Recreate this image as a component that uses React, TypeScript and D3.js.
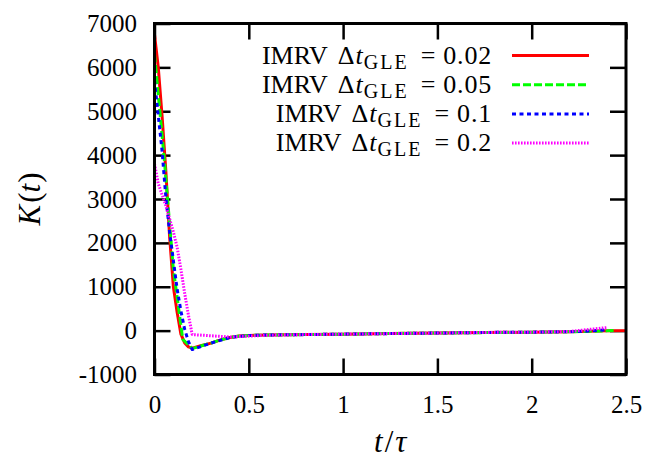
import { useEffect, useRef } from 'react';
import * as d3 from 'd3';

// ticks
const xTicks = [0, 0.5, 1, 1.5, 2, 2.5];
const yTicks = [-1000, 0, 1000, 2000, 3000, 4000, 5000, 6000, 7000];

// IMRV dt_GLE = 0.02
const tA = [0, 0.02, 0.04, 0.06, 0.08, 0.1, 0.12, 0.14, 0.16, 0.18, 0.2, 0.25, 0.3, 0.35, 0.4, 0.45, 0.5, 0.6, 0.8, 1.0, 1.25, 1.5, 1.75, 2.0, 2.2, 2.3, 2.4, 2.5];
const kA = [6750, 6000, 4900, 3650, 2150, 1000, 420, -80, -280, -370, -400, -340, -285, -210, -155, -125, -110, -100, -90, -80, -65, -55, -45, -35, -25, -15, -5, 0];

// IMRV dt_GLE = 0.05
const tB = [0, 0.05, 0.1, 0.15, 0.2, 0.25, 0.3, 0.35, 0.4, 0.45, 0.5, 0.6, 0.8, 1.0, 1.25, 1.5, 1.75, 2.0, 2.2, 2.3, 2.4, 2.45];
const kB = [6300, 4000, 1400, -200, -410, -345, -285, -210, -155, -125, -110, -100, -90, -80, -65, -55, -45, -35, -25, -15, -5, 10];

// IMRV dt_GLE = 0.1
const tC = [0, 0.02, 0.04, 0.06, 0.08, 0.1, 0.12, 0.14, 0.16, 0.18, 0.2, 0.3, 0.4, 0.5, 0.6, 0.8, 1.0, 1.2, 1.4, 1.6, 1.8, 2.0, 2.2, 2.3, 2.4];
const kC = [5700, 4900, 4100, 3050, 2250, 1600, 950, 450, 30, -250, -430, -285, -155, -110, -100, -90, -80, -70, -60, -50, -40, -35, -25, -10, 20];

// IMRV dt_GLE = 0.2
const tD = [0, 0.02, 0.04, 0.06, 0.08, 0.1, 0.12, 0.14, 0.16, 0.18, 0.2, 0.4, 0.6, 0.8, 1.0, 1.2, 1.4, 1.6, 1.8, 2.0, 2.2, 2.4];
const kD = [3800, 3350, 3100, 2850, 2550, 2250, 1900, 1400, 850, 350, -90, -145, -105, -90, -80, -70, -60, -50, -40, -35, -20, 70];

const labels = ['0.02', '0.05', '0.1', '0.2'];
const colors = ['#ff0000', '#00ff00', '#0000ff', '#ff00ff'];
const dashes = ['none', '8,3', '4,3.5', '1.6,1.4'];

const App = () => {
    const svgRef = useRef<SVGSVGElement>(null);

    useEffect(() => {
        document.body.style.margin = '0';
        const svg = d3.select(svgRef.current);
        svg.selectAll('*').remove();

        const width = 660;
        const height = 461;
        const left = 154.5, right = 626, top = 23.5, bottom = 374.5;
        const font = '"Liberation Serif", "DejaVu Serif", serif';

        svg.attr('width', width).attr('height', height)
            .style('display', 'block')
            .style('background', '#fff');

        const x = d3.scaleLinear().domain([0, 2.5]).range([left, right]);
        const y = d3.scaleLinear().domain([-1000, 7000]).range([bottom, top]);

        // axes with inward ticks, mirrored
        const styleAxis = (g: any) => {
            g.select('.domain').remove();
            g.selectAll('line').attr('stroke', '#000').attr('stroke-width', 2.5);
            g.selectAll('text').attr('fill', '#000');
            g.attr('font-family', font).attr('font-size', 25);
        };

        svg.append('g')
            .attr('transform', `translate(0,${bottom})`)
            .call(d3.axisBottom(x).tickValues(xTicks).tickSizeInner(-16).tickSizeOuter(0).tickPadding(21).tickFormat((d: any) => String(d)))
            .call(styleAxis);

        svg.append('g')
            .attr('transform', `translate(0,${top})`)
            .call(d3.axisTop(x).tickValues(xTicks).tickSizeInner(-16).tickSizeOuter(0).tickFormat(() => ''))
            .call(styleAxis);

        svg.append('g')
            .attr('transform', `translate(${left},0)`)
            .call(d3.axisLeft(y).tickValues(yTicks).tickSizeInner(-16).tickSizeOuter(0).tickPadding(17.5).tickFormat((d: any) => String(d)))
            .call(styleAxis);

        svg.append('g')
            .attr('transform', `translate(${right},0)`)
            .call(d3.axisRight(y).tickValues(yTicks).tickSizeInner(-16).tickSizeOuter(0).tickFormat(() => ''))
            .call(styleAxis);

        // curves
        const series = [
            { t: tA, k: kA },
            { t: tB, k: kB },
            { t: tC, k: kC },
            { t: tD, k: kD },
        ];

        const line = d3.line<[number, number]>()
            .x(d => x(d[0]))
            .y(d => y(d[1]));

        series.forEach((s, i) => {
            const pts = s.t.map((t, j) => [t, s.k[j]] as [number, number]);
            svg.append('path')
                .datum(pts)
                .attr('fill', 'none')
                .attr('stroke', colors[i])
                .attr('stroke-width', 3)
                .attr('stroke-dasharray', dashes[i])
                .attr('stroke-linejoin', 'round')
                .attr('d', line);
        });

        // frame
        svg.append('rect')
            .attr('x', left)
            .attr('y', top)
            .attr('width', right - left)
            .attr('height', bottom - top)
            .attr('fill', 'none')
            .attr('stroke', '#000')
            .attr('stroke-width', 3);

        // legend
        labels.forEach((lab, i) => {
            const cy = 55.5 + i * 29.2;
            const txt = svg.append('text')
                .attr('x', 492)
                .attr('y', cy + 8)
                .attr('text-anchor', 'end')
                .attr('font-family', font)
                .attr('font-size', 26)
                .attr('fill', '#000');
            txt.append('tspan').text('IMRV');
            txt.append('tspan').attr('dx', 10).text('Δ');
            txt.append('tspan').attr('font-style', 'italic').attr('dx', 1).text('t');
            txt.append('tspan').attr('font-size', 20).attr('dy', 5).attr('dx', 1).attr('letter-spacing', 2).text('GLE');
            txt.append('tspan').attr('dy', -5).attr('dx', 12).text('=');
            txt.append('tspan').attr('dx', 8).attr('letter-spacing', 0.8).text(lab);

            svg.append('line')
                .attr('x1', 512)
                .attr('x2', 589)
                .attr('y1', cy)
                .attr('y2', cy)
                .attr('stroke', colors[i])
                .attr('stroke-width', 3)
                .attr('stroke-dasharray', dashes[i]);
        });

        // axis titles
        const xt = svg.append('text')
            .attr('x', (left + right) / 2)
            .attr('y', 452)
            .attr('text-anchor', 'middle')
            .attr('font-family', font)
            .attr('font-size', 31);
        xt.append('tspan').attr('font-style', 'italic').text('t');
        xt.append('tspan').attr('dx', 2).text('/');
        xt.append('tspan').attr('dx', 2).attr('font-style', 'italic').text('τ');

        const yt = svg.append('text')
            .attr('transform', `translate(40,${(top + bottom) / 2}) rotate(-90)`)
            .attr('text-anchor', 'middle')
            .attr('font-family', font)
            .attr('font-size', 31);
        yt.append('tspan').attr('font-style', 'italic').text('K');
        yt.append('tspan').attr('dx', 2).text('(');
        yt.append('tspan').attr('font-style', 'italic').text('t');
        yt.append('tspan').attr('dx', 1).text(')');
    }, []);

    return <svg ref={svgRef}></svg>;
};

export default App;
